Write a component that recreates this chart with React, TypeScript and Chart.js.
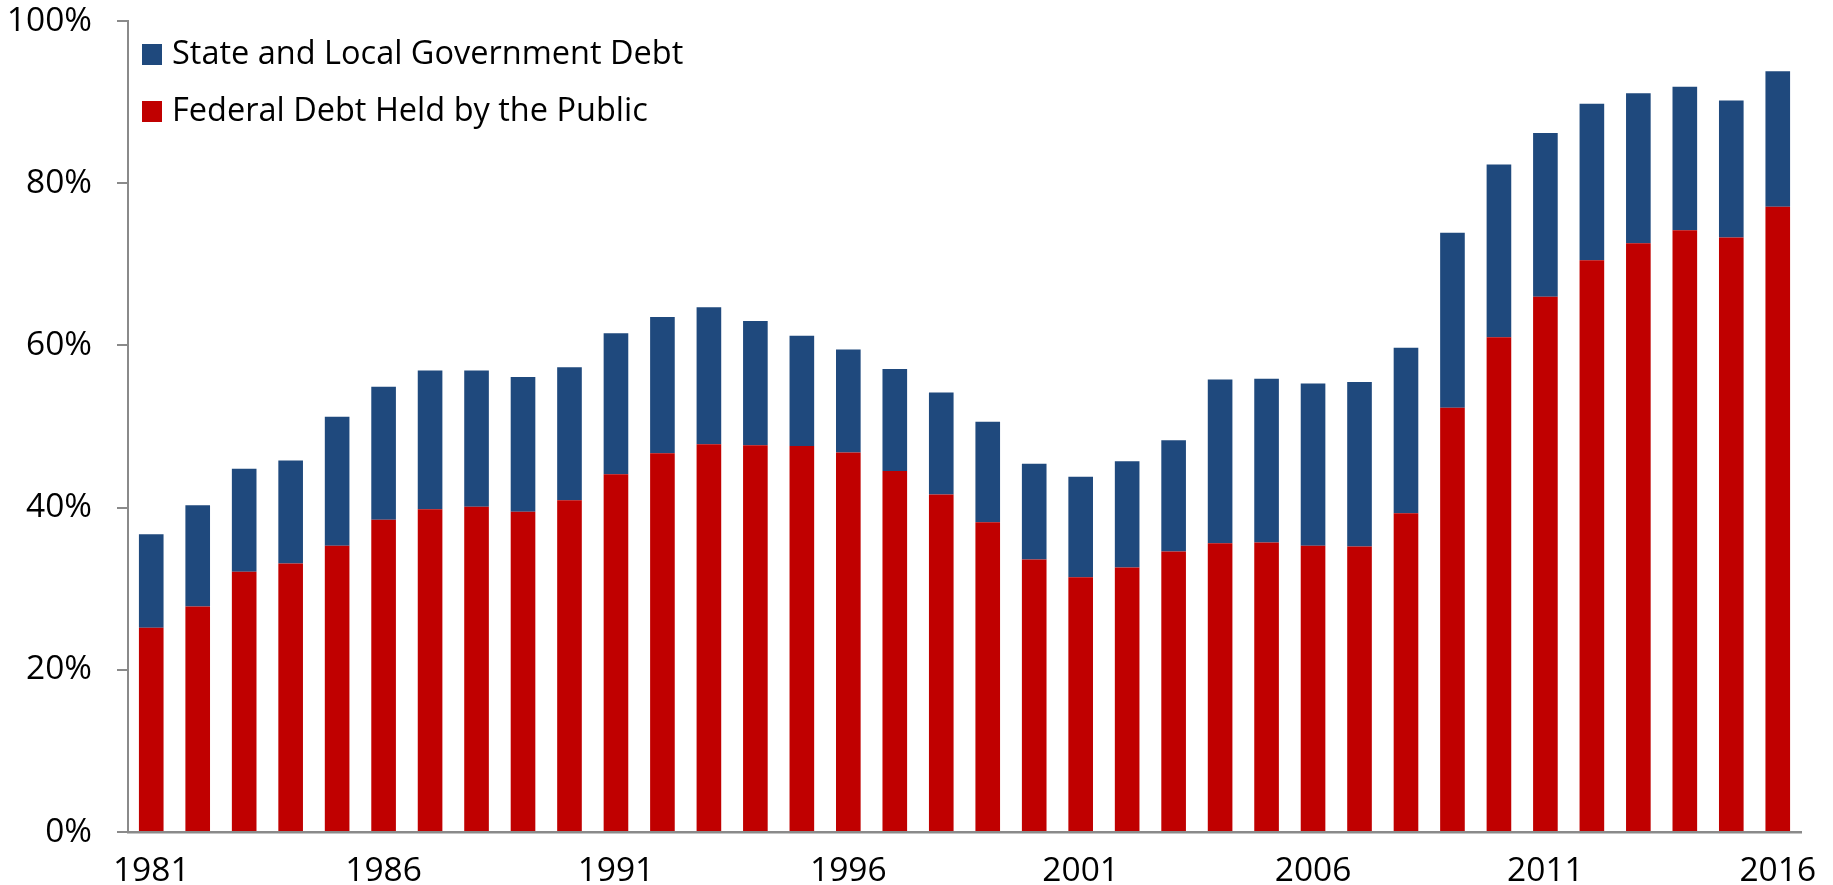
import React, { useEffect, useRef } from "react";
import { Chart, registerables } from "chart.js";

Chart.register(...registerables);

const years: string[] = [
  "1981","1982","1983","1984","1985","1986","1987","1988","1989","1990",
  "1991","1992","1993","1994","1995","1996","1997","1998","1999","2000",
  "2001","2002","2003","2004","2005","2006","2007","2008","2009","2010",
  "2011","2012","2013","2014","2015","2016",
];

// Federal debt held by the public (% of GDP)
const federalDebt: number[] = [
  25.2, 27.8, 32.1, 33.1, 35.3, 38.5, 39.8, 40.1, 39.5, 40.9,
  44.1, 46.7, 47.8, 47.7, 47.6, 46.8, 44.5, 41.6, 38.2, 33.6,
  31.4, 32.6, 34.6, 35.6, 35.7, 35.3, 35.2, 39.3, 52.3, 61.0,
  66.0, 70.5, 72.6, 74.2, 73.3, 77.1,
];

// State and local government debt (% of GDP), stacked on top
const stateLocalDebt: number[] = [
  11.5, 12.5, 12.7, 12.7, 15.9, 16.4, 17.1, 16.8, 16.6, 16.4,
  17.4, 16.8, 16.9, 15.3, 13.6, 12.7, 12.6, 12.6, 12.4, 11.8,
  12.4, 13.1, 13.7, 20.2, 20.2, 20.0, 20.3, 20.4, 21.6, 21.3,
  20.2, 19.3, 18.5, 17.7, 16.9, 16.7,
];

const yTicks: number[] = [0, 20, 40, 60, 80, 100];
const labelEvery = 5;

const BLUE = "#1F497D";
const RED = "#C00000";
const AXIS = "#8A8A8A";
const FONT = "'Open Sans'";
const FONT_SIZE = 33.5;
const LEGEND_SIZE = 32.5;

const legendPlugin = {
  id: "insideLegend",
  afterDraw(chart: any) {
    const ctx = chart.ctx;
    const ds = chart.data.datasets;
    const order = [1, 0];
    ctx.save();
    ctx.font = `${LEGEND_SIZE}px ${FONT}`;
    ctx.textBaseline = "middle";
    ctx.textAlign = "left";
    order.forEach((idx, i) => {
      const cy = 54 + i * 57;
      ctx.fillStyle = ds[idx].backgroundColor;
      ctx.fillRect(142, cy - 10, 20, 21);
      ctx.fillStyle = "#000";
      ctx.fillText(ds[idx].label, 172, cy + 1);
    });
    ctx.restore();
  },
};

export default function App() {
  const ref = useRef<HTMLCanvasElement | null>(null);

  useEffect(() => {
    if (!ref.current) return;
    const chart = new Chart(ref.current, {
      type: "bar",
      data: {
        labels: years,
        datasets: [
          {
            label: "Federal Debt Held by the Public",
            data: federalDebt,
            backgroundColor: RED,
            borderWidth: 0,
            categoryPercentage: 1,
            barPercentage: 0.53,
          },
          {
            label: "State and Local Government Debt",
            data: stateLocalDebt,
            backgroundColor: BLUE,
            borderWidth: 0,
            categoryPercentage: 1,
            barPercentage: 0.53,
          },
        ],
      },
      options: {
        animation: false,
        responsive: true,
        maintainAspectRatio: false,
        layout: { padding: { top: 21, right: 32, left: 0, bottom: 0 } },
        plugins: {
          legend: { display: false },
          tooltip: { enabled: false },
        },
        scales: {
          x: {
            stacked: true,
            offset: true,
            grid: { display: false, drawTicks: false },
            border: { display: true, color: AXIS, width: 2.5 },
            ticks: {
              autoSkip: false,
              maxRotation: 0,
              minRotation: 0,
              padding: 19,
              color: "#000",
              font: { family: FONT, size: FONT_SIZE },
              callback: (_v: any, i: number) => (i % labelEvery === 0 ? years[i] : ""),
            },
            afterFit: (scale: any) => {
              scale.height = 53;
              scale.paddingLeft = 0;
              scale.paddingRight = 0;
            },
          },
          y: {
            stacked: true,
            min: 0,
            max: 100,
            afterBuildTicks: (scale: any) => {
              scale.ticks = yTicks.map((v) => ({ value: v }));
            },
            grid: {
              display: true,
              drawOnChartArea: false,
              drawTicks: true,
              tickLength: 11,
              color: AXIS,
              lineWidth: 2,
            },
            border: { display: true, color: AXIS, width: 2 },
            ticks: {
              padding: 25,
              color: "#000",
              font: { family: FONT, size: FONT_SIZE },
              callback: (v: any) => `${v}%`,
            },
            afterFit: (scale: any) => {
              scale.width = 128;
              scale.paddingTop = 0;
              scale.paddingBottom = 0;
            },
          },
        },
      },
      plugins: [legendPlugin],
    });
    return () => chart.destroy();
  }, []);

  return (
    <div style={{ position: "fixed", left: 0, top: 0, width: "1833px", height: "885px", background: "#fff" }}>
      <canvas ref={ref} />
    </div>
  );
}
